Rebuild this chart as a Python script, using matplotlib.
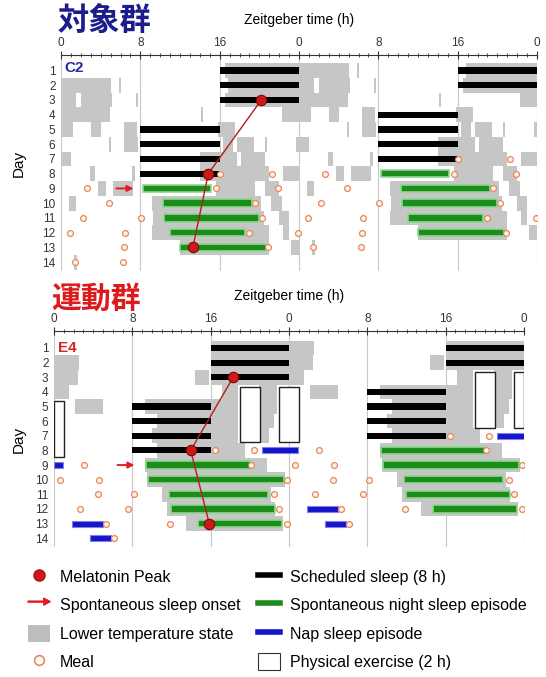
import matplotlib
matplotlib.use('Agg')
import matplotlib.pyplot as plt
import matplotlib.patches as mpatches
from matplotlib.lines import Line2D
from matplotlib.legend_handler import HandlerPatch

plt.rcParams['font.family'] = ['Liberation Sans', 'DejaVu Sans']

# ---- C2 (control) : (day, start h, end h) ----
c2_sched = [(1, 16, 24), (2, 16, 24), (3, 16, 24), (5, 8, 16), (6, 8, 16), (7, 8, 16), (8, 8, 16)]
c2_night = [(9, 8.3, 15.1), (10, 10.3, 19.3), (11, 10.4, 20.0), (12, 11.0, 18.6), (13, 12.0, 20.7)]
c2_nap = []
c2_low = [(1, 16.5, 24),
          (2, 0, 5.0), (2, 5.8, 6.1), (2, 16.8, 24),
          (3, 0, 1.5), (3, 2.0, 5.1), (3, 7.6, 7.8), (3, 16.5, 24),
          (4, 0, 4.9), (4, 14.1, 14.3), (4, 22.3, 24),
          (5, 0, 1.2), (5, 3.0, 4.0), (5, 6.4, 7.7), (5, 15.8, 17.5),
          (6, 4.8, 5.0), (6, 6.4, 7.8), (6, 16.3, 17.3), (6, 17.7, 19.5), (6, 20.6, 20.8), (6, 23.7, 24),
          (7, 0, 1.0), (7, 14.0, 17.7), (7, 18.2, 20.6),
          (8, 2.9, 3.4), (8, 7.2, 7.5), (8, 14.0, 21.0), (8, 22.4, 24),
          (9, 3.7, 4.5), (9, 5.2, 7.3), (9, 15.6, 19.6), (9, 20.6, 22.0),
          (10, 0.8, 1.5), (10, 9.2, 20.2), (10, 21.2, 22.3),
          (11, 9.3, 20.5), (11, 22.0, 23.0),
          (12, 9.2, 21.0), (12, 22.4, 23.0),
          (13, 12.0, 21.0), (13, 23.2, 24),
          (14, 1.3, 1.6)]
c2_meals = [(8, 16.0), (8, 21.3), (9, 2.65), (9, 15.6), (9, 21.9), (10, 4.8), (10, 19.6),
            (11, 2.2), (11, 8.1), (11, 20.3), (12, 0.9), (12, 6.5), (12, 19.0), (12, 23.9),
            (13, 6.4), (13, 20.9), (14, 1.4), (14, 6.3)]
c2_mel_day = [3, 8, 13]
c2_mel_hour = [20.2, 14.85, 13.3]
c2_onset = (9, 7.6)
c2_exercise = []

# ---- E4 (exercise) ----
e4_sched = [(1, 16, 24), (2, 16, 24), (3, 16, 24), (5, 8, 16), (6, 8, 16), (7, 8, 16), (8, 8, 16)]
e4_night = [(9, 9.4, 20.0), (10, 9.6, 23.5), (11, 11.7, 21.9), (12, 11.95, 22.6), (13, 14.7, 23.3)]
e4_nap = [(8, 21.2, 24.9), (13, 1.8, 5.0), (14, 3.65, 5.8)]
e4_low = [(1, 16, 24),
          (2, 0, 2.6), (2, 16, 24),
          (3, 0, 2.5), (3, 14.4, 15.8), (3, 16, 24),
          (4, 0, 1.5), (4, 17.2, 18.8), (4, 20.9, 22.8),
          (5, 2.1, 5.0), (5, 9.3, 18.8), (5, 20.9, 22.8),
          (6, 10.5, 18.8), (6, 20.9, 22.5),
          (7, 10.0, 18.8), (7, 21.0, 22.0),
          (8, 10.5, 19.5),
          (9, 9.3, 21.8),
          (10, 9.5, 23.6),
          (11, 11.0, 22.2),
          (12, 11.5, 22.6),
          (13, 13.5, 23.4)]
e4_meals = [(8, 16.4), (8, 20.45), (9, 3.05), (9, 20.1), (10, 0.6), (10, 4.55), (10, 23.8),
            (11, 4.45), (11, 8.2), (11, 22.45), (12, 2.7), (12, 7.55), (12, 22.95),
            (13, 5.35), (13, 11.8), (13, 23.75), (14, 6.15)]
e4_mel_day = [3, 8, 13]
e4_mel_hour = [18.3, 13.96, 15.86]
e4_onset = (9, 8.5)
# (first day, last day, start h, end h)
e4_exercise = [(4, 7, 19, 21), (4, 7, 23, 25)]

hour_ticks = [0, 8, 16, 24, 32, 40, 48]
hour_labels = ['0', '8', '16', '0', '8', '16', '0']
n_rows = 14


def to_rows(spans):
    rows, lefts, widths = [], [], []
    for d, s, e in spans:
        a, b = (d - 1) * 24 + s, (d - 1) * 24 + e
        for r in range(1, n_rows + 1):
            off = (r - 1) * 24
            x0, x1 = max(a - off, 0), min(b - off, 48)
            if x1 > x0:
                rows.append(r)
                lefts.append(x0)
                widths.append(x1 - x0)
    return rows, lefts, widths


def points_to_rows(points):
    rows, xs = [], []
    for d, h in points:
        a = (d - 1) * 24 + h
        for r in range(1, n_rows + 1):
            x = a - (r - 1) * 24
            if 0 <= x <= 48:
                rows.append(r)
                xs.append(x)
    return rows, xs


def draw_panel(ax, sched, night, nap, low, meals, mel_day, mel_hour, onset, exercise, ytop):
    ax.set_xlim(0, 48)
    ax.set_ylim(14.6, ytop)
    for t in hour_ticks:
        ax.axvline(t, color='#c8c8c8', lw=0.8, zorder=0)

    r, l, w = to_rows(low)
    ax.barh(r, w, left=l, height=1.0, color='#c6c6c6', lw=0, zorder=1)

    for d1, d2, s, e in exercise:
        for j in (-1, 0, 1):
            x0, x1 = max(j * 24 + s, 0), min(j * 24 + e, 48)
            r0, r1 = max(d1 - j, 1), min(d2 - j, n_rows)
            if x1 > x0 and r1 >= r0:
                ax.add_patch(mpatches.Rectangle((x0, r0 - 0.35), x1 - x0, r1 - r0 + 0.8,
                                                facecolor='white', edgecolor='#222222',
                                                lw=1.0, zorder=2))

    r, l, w = to_rows(sched)
    ax.barh(r, w, left=l, height=0.42, color='black', lw=0, zorder=3)
    r, l, w = to_rows(night)
    ax.barh(r, w, left=l, height=0.5, color='#1c8c1c', edgecolor='#8fd88f', lw=1.2, zorder=3)
    r, l, w = to_rows(nap)
    ax.barh(r, w, left=l, height=0.42, color='#1414c8', edgecolor='#8080ee', lw=0.8, zorder=3)

    r, x = points_to_rows(meals)
    ax.plot(x, r, 'o', ms=4.2, mfc='#fff3ea', mec='#e8865a', mew=0.9, ls='None', zorder=4)

    ax.plot(mel_hour, mel_day, '-', color='#b51c1c', lw=1.0, zorder=5)
    ax.plot(mel_hour, mel_day, 'o', ms=7.5, mfc='#d01818', mec='#7a0a0a', mew=0.8, ls='None', zorder=6)

    ax.annotate('', xy=(onset[1], onset[0]), xytext=(onset[1] - 2.3, onset[0]),
                arrowprops=dict(arrowstyle='-|>', color='#e02020', lw=1.4, mutation_scale=9),
                zorder=6)

    ax.xaxis.tick_top()
    ax.xaxis.set_label_position('top')
    ax.set_xticks(hour_ticks)
    ax.set_xticklabels(hour_labels)
    ax.set_xticks(range(0, 49), minor=True)
    ax.tick_params(axis='x', which='major', direction='inout', length=6, width=0.8,
                   colors='#333333', labelsize=8.5, pad=1.5)
    ax.tick_params(axis='x', which='minor', direction='inout', length=3.5, width=0.6, colors='#333333')
    ax.set_xlabel('Zeitgeber time (h)', fontsize=10, labelpad=9)
    ax.set_yticks(range(1, n_rows + 1))
    ax.set_yticklabels([str(i) for i in range(1, n_rows + 1)])
    ax.tick_params(axis='y', length=0, labelsize=8.5, labelcolor='#333333', pad=4)
    ax.set_ylabel('Day', fontsize=11, labelpad=6)
    for side in ('left', 'right', 'bottom'):
        ax.spines[side].set_visible(False)
    ax.spines['top'].set_color('#333333')
    ax.spines['top'].set_linewidth(0.8)


fig = plt.figure(figsize=(5.46, 6.77), dpi=100)

ax1 = fig.add_axes([61 / 546, 1 - 271 / 677, 476 / 546, 216 / 677])
draw_panel(ax1, c2_sched, c2_night, c2_nap, c2_low, c2_meals, c2_mel_day, c2_mel_hour,
           c2_onset, c2_exercise, -0.05)
ax1.text(0.3, 0.85, 'C2', color='#2828a8', fontsize=11, fontweight='bold', va='center', zorder=7)

ax2 = fig.add_axes([54 / 546, 1 - 547 / 677, 470 / 546, 216 / 677])
draw_panel(ax2, e4_sched, e4_night, e4_nap, e4_low, e4_meals, e4_mel_day, e4_mel_hour,
           e4_onset, e4_exercise, -0.16)
ax2.text(0.4, 1.0, 'E4', color='#d82020', fontsize=11, fontweight='bold', va='center', zorder=7)
ax1.yaxis.set_label_coords(-0.075, 0.5)
ax2.yaxis.set_label_coords(-0.06, 0.5)

fig.text(57 / 546, 1 - 21 / 677, '対象群', color='#1c1c8c', fontsize=22.5, fontweight='bold',
         family=['Noto Sans CJK JP'], va='center', ha='left')
fig.text(51 / 546, 1 - 299 / 677, '運動群', color='#dc1c1c', fontsize=21.5, fontweight='bold',
         family=['Noto Sans CJK JP'], va='center', ha='left')


def make_arrow(legend, orig_handle, xdescent, ydescent, width, height, fontsize):
    return mpatches.FancyArrow(0, 0.5 * height, width, 0, length_includes_head=True,
                               head_width=0.4 * height, head_length=0.3 * width, width=0.06 * height)


arrow_handle = mpatches.FancyArrow(0, 0, 1, 0, color='#e02020')
handles = [
    Line2D([], [], marker='o', ls='None', ms=8, mfc='#d01818', mec='#b01010'),
    arrow_handle,
    mpatches.Patch(facecolor='#bdbdbd', edgecolor='none'),
    Line2D([], [], marker='o', ls='None', ms=7, mfc='white', mec='#e8865a', mew=1.2),
    Line2D([], [], color='black', lw=4),
    Line2D([], [], color='#1c8c1c', lw=4),
    Line2D([], [], color='#1414c8', lw=4),
    mpatches.Patch(facecolor='white', edgecolor='#333333', lw=0.8),
]
labels = ['Melatonin Peak', 'Spontaneous sleep onset', 'Lower temperature state', 'Meal',
          'Scheduled sleep (8 h)', 'Spontaneous night sleep episode', 'Nap sleep episode',
          'Physical exercise (2 h)']
fig.legend(handles, labels, ncol=2, loc='upper left', bbox_to_anchor=(28 / 546, 1 - 568 / 677),
           frameon=False, fontsize=11.5, handlelength=1.4, handleheight=1.3,
           handletextpad=0.6, columnspacing=1.1, labelspacing=0.68, borderpad=0, borderaxespad=0,
           handler_map={arrow_handle: HandlerPatch(patch_func=make_arrow)})

fig.savefig('out.png', dpi=100)
